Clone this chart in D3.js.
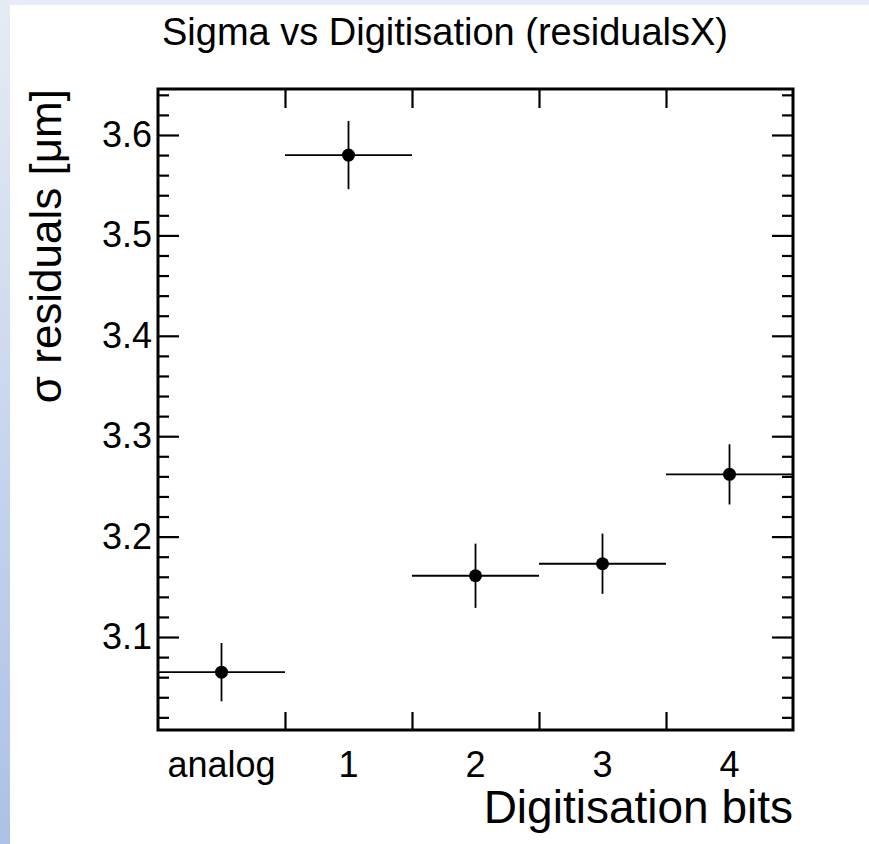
<!DOCTYPE html>
<html>
<head>
<meta charset="utf-8">
<script src="https://cdn.jsdelivr.net/npm/d3@7"></script>
<style>
  body { margin: 0; background: #fff; }
  text { font-family: "Liberation Sans", Arial, Helvetica, sans-serif; fill: #000; }
</style>
</head>
<body>
<div class="chart"></div>
<script>
// values
var categories = ["analog", "1", "2", "3", "4"];
var sigma = [3.065, 3.580, 3.161, 3.173, 3.262];
var sigmaErr = [0.029, 0.034, 0.032, 0.030, 0.030];
var yMajor = [3.1, 3.2, 3.3, 3.4, 3.5, 3.6];
var yMinor = [3.02, 3.04, 3.06, 3.08, 3.12, 3.14, 3.16, 3.18, 3.22, 3.24, 3.26, 3.28,
              3.32, 3.34, 3.36, 3.38, 3.42, 3.44, 3.46, 3.48, 3.52, 3.54, 3.56, 3.58, 3.62, 3.64];

var width = 869, height = 844;
var frame = {left: 158, right: 793, top: 89, bottom: 730};

var svg = d3.select(".chart").append("svg")
    .attr("width", width)
    .attr("height", height);

// slide background
var grad = svg.append("defs").append("linearGradient")
    .attr("id", "bg").attr("x1", 0).attr("y1", 0).attr("x2", 0).attr("y2", 1);
grad.append("stop").attr("offset", "0%").attr("stop-color", "#e6ebf5");
grad.append("stop").attr("offset", "100%").attr("stop-color", "#acc1e5");
svg.append("rect").attr("width", width).attr("height", height).attr("fill", "url(#bg)");
svg.append("rect").attr("x", 10).attr("y", 5)
    .attr("width", width - 10).attr("height", height - 5).attr("fill", "#fff");

var x = d3.scaleBand()
    .domain(categories)
    .range([frame.left, frame.right])
    .padding(0);

var xEdge = d3.scaleLinear()
    .domain([0, categories.length])
    .range([frame.left, frame.right]);

var y = d3.scaleLinear()
    .domain([3.0074, 3.6458])
    .range([frame.bottom, frame.top]);

function style(g, w) {
    g.select(".domain").remove();
    g.selectAll("line").attr("stroke", "#000").attr("stroke-width", w);
}

var edges = d3.range(1, categories.length);

// y axis, left and right, ticks pointing inward
svg.append("g").attr("transform", "translate(" + frame.left + ",0)")
    .call(d3.axisLeft(y).tickValues(yMinor).tickSize(-11).tickFormat(""))
    .call(style, 2.2);
svg.append("g").attr("transform", "translate(" + frame.left + ",0)")
    .call(d3.axisLeft(y).tickValues(yMajor).tickSize(-21).tickPadding(6).tickFormat(d3.format(".1f")))
    .call(style, 2.2)
    .selectAll("text").attr("font-size", 36);
svg.append("g").attr("transform", "translate(" + frame.right + ",0)")
    .call(d3.axisRight(y).tickValues(yMinor).tickSize(-11).tickFormat(""))
    .call(style, 2.2);
svg.append("g").attr("transform", "translate(" + frame.right + ",0)")
    .call(d3.axisRight(y).tickValues(yMajor).tickSize(-21).tickFormat(""))
    .call(style, 2.2);

// x axis: ticks at bin edges, labels at bin centres
svg.append("g").attr("transform", "translate(0," + frame.bottom + ")")
    .call(d3.axisBottom(xEdge).tickValues(edges).tickSize(-18).tickFormat(""))
    .call(style, 2.2);
svg.append("g").attr("transform", "translate(0," + frame.top + ")")
    .call(d3.axisTop(xEdge).tickValues(edges).tickSize(-19).tickFormat(""))
    .call(style, 2.2);
svg.append("g").attr("transform", "translate(0," + frame.bottom + ")")
    .call(d3.axisBottom(x).tickSize(0).tickPadding(21))
    .call(style, 0)
    .selectAll("text").attr("font-size", 36);

// frame
svg.append("rect")
    .attr("x", frame.left).attr("y", frame.top)
    .attr("width", frame.right - frame.left).attr("height", frame.bottom - frame.top)
    .attr("fill", "none").attr("stroke", "#000").attr("stroke-width", 3);

// points with errors
var pts = svg.append("g").selectAll("g")
    .data(categories)
    .join("g");

pts.append("line")
    .attr("x1", function(d) { return x(d); })
    .attr("x2", function(d) { return x(d) + x.bandwidth(); })
    .attr("y1", function(d, i) { return y(sigma[i]); })
    .attr("y2", function(d, i) { return y(sigma[i]); })
    .attr("stroke", "#000").attr("stroke-width", 1.8);

pts.append("line")
    .attr("x1", function(d) { return x(d) + x.bandwidth() / 2; })
    .attr("x2", function(d) { return x(d) + x.bandwidth() / 2; })
    .attr("y1", function(d, i) { return y(sigma[i] - sigmaErr[i]); })
    .attr("y2", function(d, i) { return y(sigma[i] + sigmaErr[i]); })
    .attr("stroke", "#000").attr("stroke-width", 1.8);

pts.append("circle")
    .attr("cx", function(d) { return x(d) + x.bandwidth() / 2; })
    .attr("cy", function(d, i) { return y(sigma[i]); })
    .attr("r", 6.5)
    .attr("fill", "#000");

// titles
svg.append("text")
    .attr("x", 445).attr("y", 45)
    .attr("text-anchor", "middle")
    .attr("font-size", 38)
    .text("Sigma vs Digitisation (residualsX)");

svg.append("text")
    .attr("x", frame.right).attr("y", 823)
    .attr("text-anchor", "end")
    .attr("font-size", 46)
    .text("Digitisation bits");

svg.append("text")
    .attr("transform", "translate(61," + frame.top + ") rotate(-90)")
    .attr("text-anchor", "end")
    .attr("font-size", 44)
    .text("σ residuals [μm]");
</script>
</body>
</html>
